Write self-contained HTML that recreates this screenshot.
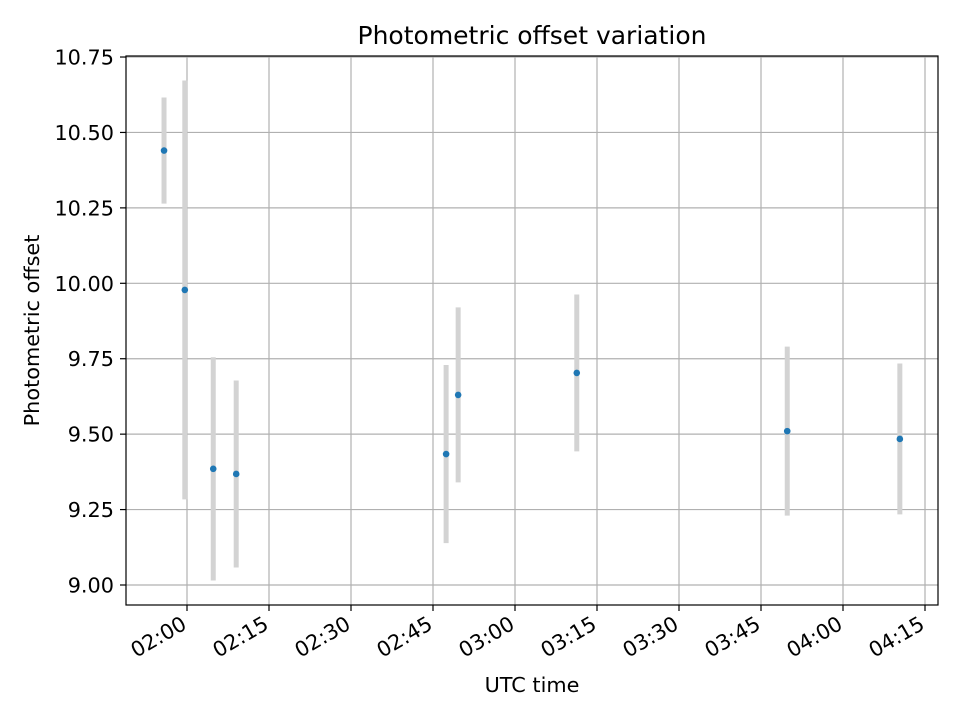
<!DOCTYPE html>
<html><head><meta charset="utf-8"><style>
body{margin:0;background:#fff;}
svg text{font-family:"DejaVu Sans","Liberation Sans",sans-serif;}
</style></head><body>
<svg id="chart" width="960" height="720" xmlns="http://www.w3.org/2000/svg"></svg>
<script>
// minutes after 02:00 UTC
const times=[-4.2,-0.4,4.8,9.0,47.4,49.6,71.3,109.8,130.4];
const values=[10.44,9.978,9.385,9.368,9.434,9.63,9.703,9.51,9.484];
const errors=[0.176,0.694,0.37,0.31,0.295,0.29,0.26,0.28,0.25];
const yTicks=[9.00,9.25,9.50,9.75,10.00,10.25,10.50,10.75];
const xTicks=[0,15,30,45,60,75,90,105,120,135];
const xTickLabels=["02:00","02:15","02:30","02:45","03:00","03:15","03:30","03:45","04:00","04:15"];

const L=126,R=938,T=56,B=605;
const X=m=>187+(m)*82/15;
const Y=v=>585-(v-9)*301.7;
const svg=document.getElementById('chart');
const NS="http://www.w3.org/2000/svg";
function mk(tag,attrs,parent){const e=document.createElementNS(NS,tag);for(const k in attrs)e.setAttribute(k,attrs[k]);(parent||svg).appendChild(e);return e;}

const grid=mk('g',{});


xTicks.forEach((t,i)=>{
  const x=X(t);
  const gl=mk('line',{x1:x,x2:x,y1:T,y2:B,stroke:'#b0b0b0','stroke-width':1.2},grid);
  
  
  mk('line',{x1:x,x2:x,y1:B,y2:B+6,stroke:'#000','stroke-width':1.2});
  const bx=x+1, by=B+23;
  const tx=mk('text',{x:bx,y:by,'font-size':'20.8px','text-anchor':'end',transform:`rotate(-30 ${bx} ${by})`});
  tx.textContent=xTickLabels[i];
  
  
});
yTicks.forEach(v=>{
  const y=Y(v);
  const gl=mk('line',{x1:L,x2:R,y1:y,y2:y,stroke:'#b0b0b0','stroke-width':1.2},grid);
  
  
  mk('line',{x1:L-6,x2:L,y1:y,y2:y,stroke:'#000','stroke-width':1.2});
  const tx=mk('text',{x:L-12,y:y+7.5,'font-size':'20.8px','text-anchor':'end'});
  tx.textContent=v.toFixed(2);
  
  
});

times.forEach((t,i)=>{
  const x=X(t);
  const eb=mk('line',{x1:x,x2:x,y1:Y(values[i]+errors[i]),y2:Y(values[i]-errors[i]),stroke:'#d3d3d3','stroke-width':5});
  
  
});
times.forEach((t,i)=>{
  const p=mk('circle',{cx:X(t),cy:Y(values[i]),r:3.3,fill:'#1f77b4'});
  
  
});

const frame=mk('rect',{x:L,y:T,width:R-L,height:B-T,fill:'none',stroke:'#000','stroke-width':1.2});



const title=mk('text',{x:(L+R)/2,y:44,'font-size':'25px','text-anchor':'middle'});
title.textContent='Photometric offset variation';


const xl=mk('text',{x:(L+R)/2,y:692,'font-size':'20.8px','text-anchor':'middle'});
xl.textContent='UTC time';


const yl=mk('text',{x:39,y:(T+B)/2,'font-size':'20.8px','text-anchor':'middle',transform:`rotate(-90 39 ${(T+B)/2})`});
yl.textContent='Photometric offset';


</script>
</body></html>
